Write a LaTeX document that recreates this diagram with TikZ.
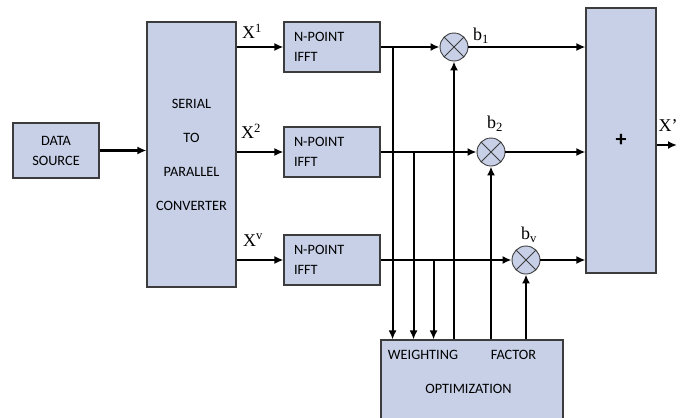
\documentclass[tikz,border=0pt]{standalone}
\usepackage{fontspec}
\setmainfont{Carlito}
\newfontfamily\lblfont{Liberation Serif}
\usepackage{tikz}
\usetikzlibrary{arrows.meta,positioning,calc}
\definecolor{boxfill}{HTML}{C7D0E7}
\definecolor{edgegray}{HTML}{3C3C3C}

\begin{document}
\begin{tikzpicture}[x=1pt,y=-1pt,
  blk/.style={draw=edgegray,fill=boxfill,line width=1.1pt,inner sep=0pt,font=\fontsize{14.3}{20}\selectfont},
  ifft/.style={blk,minimum height=50pt,text width=76pt,inner xsep=10pt,align=left},
  mul/.style={circle,draw=edgegray,fill=boxfill,line width=0.9pt,minimum size=28pt,inner sep=0pt,
    path picture={\draw[edgegray,line width=0.9pt]
      (path picture bounding box.north west) -- (path picture bounding box.south east)
      (path picture bounding box.north east) -- (path picture bounding box.south west);}},
  sig/.style={line width=2.1pt,-{Latex[length=9pt,width=8pt]}},
  lbl/.style={font=\lblfont\fontsize{18}{20}\selectfont,inner sep=0pt},
  txt/.style={font=\fontsize{14.3}{15}\selectfont,inner sep=0pt}]
\useasboundingbox (0,0) rectangle (689,418);
\clip (0,0) rectangle (689,418);
\node[blk,minimum width=86pt,minimum height=55pt,align=center] (src) at (56,150.5) {DATA\\SOURCE};
\node[blk,minimum width=89pt,minimum height=265pt,align=center,font=\fontsize{14.3}{34}\selectfont] (sp) at (191.5,154.5) {SERIAL\\TO\\PARALLEL\\CONVERTER};
\node[ifft] (ifft1) at (332,47) {N-POINT\\IFFT};
\node[ifft] (ifft2) at (332,152) {N-POINT\\IFFT};
\node[ifft] (ifft3) at (332,260) {N-POINT\\IFFT};
\node[mul] (m1) at (454,47) {};
\node[mul] (m2) at (491,152) {};
\node[mul] (m3) at (526,260) {};
\node[blk,minimum width=70pt,minimum height=265pt,font=\bfseries\fontsize{22}{24}\selectfont] (sum) at (621,140.5) {+};
\node[blk,minimum width=182pt,minimum height=85pt] (opt) at (472,382.5) {};
\node[txt] (wtxt) at (423,355) {WEIGHTING};
\node[txt] (ftxt) at (513.5,355) {FACTOR};
\node[txt] (otxt) at (468.5,389) {OPTIMIZATION};
\node[lbl] (x1) at (252,31) {X\textsuperscript{1}};
\node[lbl] (x2) at (251,131) {X\textsuperscript{2}};
\node[lbl] (xv) at (253,240) {X\textsuperscript{v}};
\node[lbl] (b1) at (481,36) {b\textsubscript{1}};
\node[lbl] (b2) at (495,124) {b\textsubscript{2}};
\node[lbl] (bv) at (529,235) {b\textsubscript{v}};
\node[lbl] (xo) at (668,126) {X’};
\coordinate (out) at (677,145);
\draw[sig] (src.east) -- (src.east -| sp.west);
\foreach \i in {1,2,3} {
  \draw[sig] (sp.east |- ifft\i.west) -- (ifft\i.west);
  \draw[sig] (ifft\i.east) -- (m\i.west);
  \draw[sig] (m\i.east) -- (m\i.east -| sum.west);
  \draw[sig] (opt.north -| m\i.south) -- (m\i.south);
}
\draw[sig] (ifft1.east) ++(12,0) coordinate (t1) -- (t1 |- opt.north);
\draw[sig] (ifft2.east) ++(33,0) coordinate (t2) -- (t2 |- opt.north);
\draw[sig] (ifft3.east) ++(53,0) coordinate (t3) -- (t3 |- opt.north);
\draw[sig] (sum.east |- out) -- (out);
\end{tikzpicture}
\end{document}
